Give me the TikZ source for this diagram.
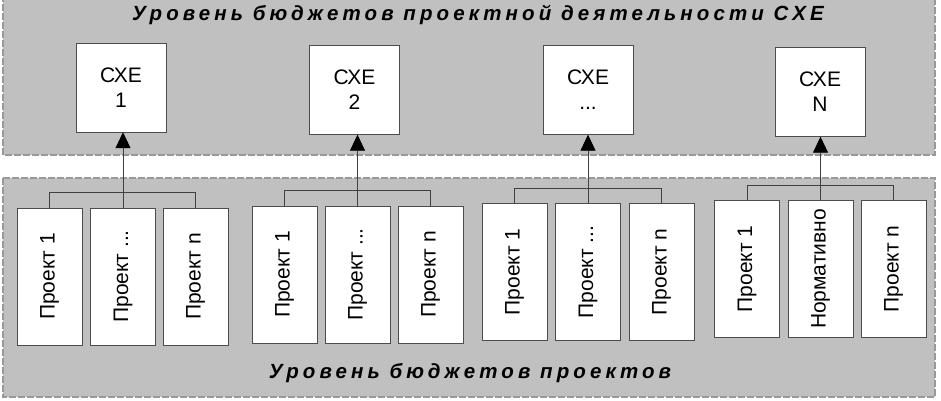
\documentclass[tikz,border=0pt]{standalone}
\usepackage{graphicx}
\usepackage{fontspec}
\setmainfont{Liberation Sans}
\newfontfamily\spacedfont[LetterSpace=20]{Liberation Sans}
\usetikzlibrary{arrows.meta}
\definecolor{panelgray}{RGB}{192,192,192}

\begin{document}
\begin{tikzpicture}[
        x=1pt, y=-1pt,
        >={Triangle[width=15pt,length=16pt,color=black,fill=black]},
        panel/.style={fill=panelgray, draw=gray!80, line width=1.6pt,
                      dash pattern=on 7pt off 2pt},
        cxe/.style={draw=black!70, fill=white, inner sep=0pt,
                    minimum width=90pt, minimum height=89pt, align=center,
                    font=\fontsize{21}{25}\selectfont},
        proj/.style={draw=black!70, fill=white, inner sep=0pt,
                     minimum width=65pt, minimum height=137pt,
                     font=\fontsize{21}{25}\selectfont},
        bracket/.style={draw=black!75, line width=0.7pt},
        level/.style={font=\spacedfont\bfseries\itshape\fontsize{20.5}{24}\selectfont},
    ]
    \clip (0,0) rectangle (941,400);
    \fill[white] (0,0) rectangle (941,400);

    % levels
    \draw[panel] (3,-5) rectangle (935,155);
    \draw[panel] (3,178) rectangle (935,397);
    \node[level] (top) at (478,15) {Уровень бюджетов проектной деятельности СХЕ};
    \node[level] (bottom) at (470,373) {Уровень бюджетов проектов};

    % CXE
    \node[cxe] (cxe1) at (121,87.5) {СХЕ\\1};
    \node[cxe] (cxe2) at (354.5,90) {СХЕ\\2};
    \node[cxe] (cxe3) at (588,90) {СХЕ\\...};
    \node[cxe] (cxe4) at (820,92) {СХЕ\\N};

    % projects
    \node[proj] (p11) at (49.5,276.5) {\rotatebox{90}{Проект 1}};
    \node[proj] (p12) at (123,276.5) {\rotatebox{90}{Проект ...}};
    \node[proj] (p13) at (195.5,276.5) {\rotatebox{90}{Проект n}};

    \node[proj] (p21) at (284.5,274.5) {\rotatebox{90}{Проект 1}};
    \node[proj] (p22) at (357.5,274.5) {\rotatebox{90}{Проект ...}};
    \node[proj] (p23) at (430.5,274.5) {\rotatebox{90}{Проект n}};

    \node[proj] (p31) at (514.5,272) {\rotatebox{90}{Проект 1}};
    \node[proj] (p32) at (588,272) {\rotatebox{90}{Проект ...}};
    \node[proj] (p33) at (661.5,272) {\rotatebox{90}{Проект n}};

    \node[proj] (p41) at (747,269) {\rotatebox{90}{Проект 1}};
    \node[proj] (p42) at (820.5,269) {\rotatebox{90}{Нормативно}};
    \node[proj] (p43) at (893.5,269) {\rotatebox{90}{Проект n}};

    % brackets and arrows
    \foreach \g in {1,2,3,4} {
        \draw[bracket] (p\g1.north) -- ++(0,-15) -| (p\g3.north);
        \draw[bracket, ->] (p\g2.north) -- (p\g2.north |- cxe\g.south);
    }
\end{tikzpicture}
\end{document}
